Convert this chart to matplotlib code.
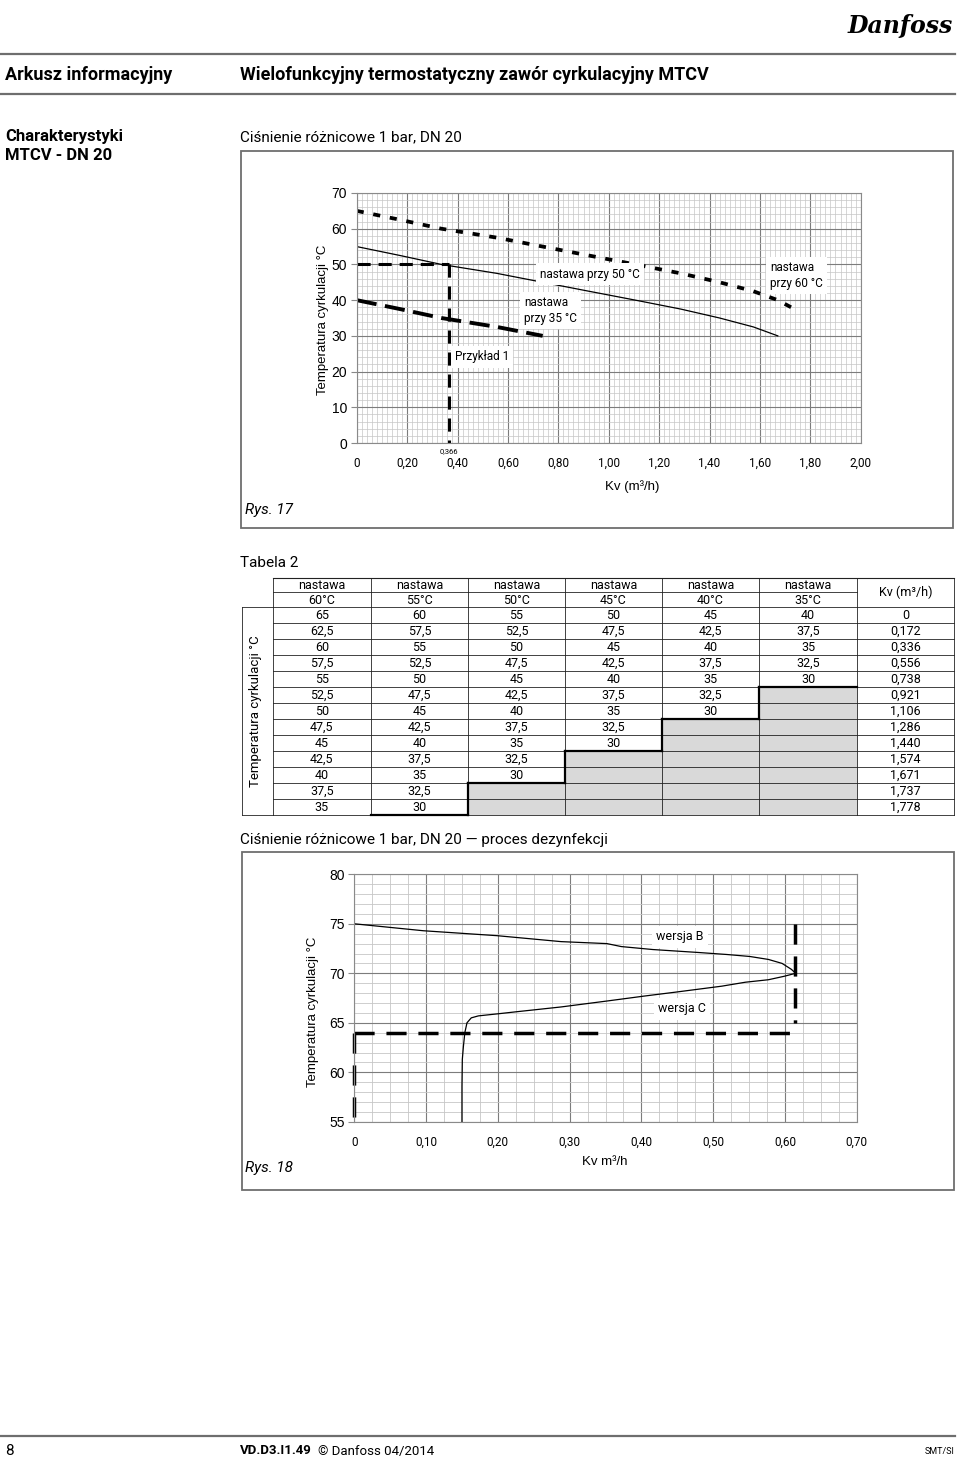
import matplotlib
matplotlib.use("Agg")
import matplotlib.pyplot as plt
from matplotlib.ticker import MultipleLocator, FixedLocator
from matplotlib.patches import Rectangle

W, H = 960, 1461

HEAD = ['Roboto', 'DejaVu Sans']
BODY = ['Roboto', 'DejaVu Sans']
ARIAL = ['Liberation Sans', 'DejaVu Sans']

# --- Rys. 17 / Tabela 2: nastawa (setting) columns and Kv rows ---
settings = [60, 55, 50, 45, 40, 35]
kv = [0, 0.172, 0.336, 0.556, 0.738, 0.921, 1.106, 1.286, 1.440, 1.574, 1.671, 1.737, 1.778]
temp_60 = [65, 62.5, 60, 57.5, 55, 52.5, 50, 47.5, 45, 42.5, 40, 37.5, 35]
temp_55 = [60, 57.5, 55, 52.5, 50, 47.5, 45, 42.5, 40, 37.5, 35, 32.5, 30]
temp_50 = [55, 52.5, 50, 47.5, 45, 42.5, 40, 37.5, 35, 32.5, 30]
temp_45 = [50, 47.5, 45, 42.5, 40, 37.5, 35, 32.5, 30]
temp_40 = [45, 42.5, 40, 37.5, 35, 32.5, 30]
temp_35 = [40, 37.5, 35, 32.5, 30]
table_cols = [temp_60, temp_55, temp_50, temp_45, temp_40, temp_35]

# Przykład 1
example_kv = 0.366
example_temp = 50

x1_ticks = [0, 0.2, 0.4, 0.6, 0.8, 1.0, 1.2, 1.4, 1.6, 1.8, 2.0]
x1_labels = ['0', '0,20', '0,40', '0,60', '0,80', '1,00', '1,20', '1,40', '1,60', '1,80', '2,00']
y1_ticks = [0, 10, 20, 30, 40, 50, 60, 70]

# --- Rys. 18: proces dezynfekcji ---
dis_kv = [0, 0.096, 0.199, 0.288, 0.352, 0.372, 0.416, 0.48, 0.519, 0.551, 0.577, 0.596, 0.609, 0.615,
          0.599, 0.577, 0.545, 0.512, 0.448, 0.404, 0.352, 0.288, 0.224, 0.199, 0.173, 0.163, 0.157,
          0.154, 0.152, 0.1505, 0.15, 0.15]
dis_temp = [75, 74.3, 73.8, 73.2, 73.0, 72.7, 72.4, 72.1, 71.9, 71.7, 71.4, 71.0, 70.4, 70.0,
            69.7, 69.35, 69.1, 68.7, 68.1, 67.7, 67.2, 66.6, 66.1, 65.9, 65.7, 65.5, 65.0,
            64.0, 62.6, 61.3, 58.6, 55]
dis_limit_temp = 64
dis_limit_kv = 0.614
dis_upper = [65, 75]

x2_ticks = [0, 0.1, 0.2, 0.3, 0.4, 0.5, 0.6, 0.7]
x2_labels = ['0', '0,10', '0,20', '0,30', '0,40', '0,50', '0,60', '0,70']
y2_ticks = [55, 60, 65, 70, 75, 80]


def fmt_temp(v):
    s = ('%.1f' % v).rstrip('0').rstrip('.')
    return s.replace('.', ',')


def fmt_kv(v):
    return '0' if v == 0 else ('%.3f' % v).replace('.', ',')


fig = plt.figure(figsize=(W / 100, H / 100), dpi=100)

# page layer in pixel coordinates
page = fig.add_axes([0, 0, 1, 1])
page.set_xlim(0, W)
page.set_ylim(H, 0)
page.axis('off')

# header
page.text(953, 26, 'Danfoss', family='DejaVu Serif', style='italic', weight='bold',
          fontsize=17, ha='right', va='center')
page.plot([0, 955], [54, 54], color='#6e6e6e', lw=1.6)
page.plot([0, 955], [94, 94], color='#6e6e6e', lw=1.6)
page.text(5, 75, 'Arkusz informacyjny', family=HEAD, weight='bold', fontsize=13, va='center')
page.text(240, 75, 'Wielofunkcyjny termostatyczny zawór cyrkulacyjny MTCV', family=HEAD,
          weight='bold', fontsize=13, va='center')
page.text(5, 137, 'Charakterystyki', family=HEAD, weight='bold', fontsize=12, va='center')
page.text(5, 155, 'MTCV - DN 20', family=HEAD, weight='bold', fontsize=12, va='center')
page.text(240, 137, 'Ciśnienie różnicowe 1 bar, DN 20', family=BODY, fontsize=11, va='center')

# frame Rys. 17
page.add_patch(Rectangle((241, 151), 712, 377, fill=False, ec='#6e6e6e', lw=1.3))
page.text(245, 510, 'Rys. 17', family=BODY, style='italic', fontsize=11, va='center')
page.text(323, 320, 'Temperatura cyrkulacji °C', family=ARIAL, fontsize=9.5, rotation=90,
          ha='center', va='center')
page.text(632, 487, 'Kv (m³/h)', family=ARIAL, fontsize=9.5, ha='center', va='center')

# --- chart 1 ---
ax1 = fig.add_axes([356.7 / W, 1 - 443 / H, (860.7 - 356.7) / W, (443 - 193) / H])
ax1.set_xlim(0, 2.0)
ax1.set_ylim(0, 70)
ax1.xaxis.set_major_locator(FixedLocator(x1_ticks))
ax1.set_xticklabels(x1_labels, family=BODY)
ax1.yaxis.set_major_locator(FixedLocator(y1_ticks))
ax1.set_yticklabels([str(t) for t in y1_ticks], family=ARIAL)
ax1.xaxis.set_minor_locator(MultipleLocator(0.02))
ax1.yaxis.set_minor_locator(MultipleLocator(2))
ax1.grid(which='minor', color='#c6c6c6', lw=0.5)
ax1.grid(which='major', color='#7c7c7c', lw=0.8)
ax1.set_axisbelow(True)
ax1.tick_params(axis='x', which='both', length=0, pad=10, labelsize=8.5)
ax1.tick_params(axis='y', which='major', length=4, color='#888888', pad=3, labelsize=10)
ax1.tick_params(axis='y', which='minor', length=0)
for sp in ax1.spines.values():
    sp.set_color('#8a8a8a')
    sp.set_linewidth(0.8)

# nastawa 60 degC (short thick dashes)
ax1.plot(kv[:12], temp_60[:12], color='black', lw=2.7, dashes=(1.9, 2.6), solid_capstyle='butt')
# nastawa 50 degC (thin solid)
ax1.plot(kv[:len(temp_50)], temp_50, color='black', lw=0.9)
# nastawa 35 degC (long dashes)
ax1.plot(kv[:len(temp_35)], temp_35, color='black', lw=2.8, dashes=(5.2, 2.2))
# Przykład 1
ax1.plot([0, example_kv], [example_temp, example_temp], color='black', lw=2.2, dashes=(4.3, 2.6))
ax1.plot([example_kv, example_kv], [example_temp, 0], color='black', lw=2.2, dashes=(4.3, 2.9))

box = dict(facecolor='white', edgecolor='none', pad=3)
ax1.text(0.926, 47.3, 'nastawa przy 50 °C', family=BODY, fontsize=8.5, ha='center', va='center', bbox=box)
ax1.text(0.664, 37.1, 'nastawa\nprzy 35 °C', family=BODY, fontsize=8.5, ha='left', va='center',
         linespacing=1.3, bbox=box)
ax1.text(0.39, 24.1, 'Przykład 1', family=BODY, fontsize=8.5, ha='left', va='center', bbox=box)
ax1.text(1.64, 46.9, 'nastawa\nprzy 60 °C', family=BODY, fontsize=8.5, ha='left', va='center',
         linespacing=1.3, bbox=box)
ax1.text(example_kv, -2.2, '0,366', family=BODY, fontsize=5.5, ha='center', va='center')

# --- Tabela 2 ---
page.text(240, 563, 'Tabela 2', family=BODY, fontsize=11, va='center')
col_x = [273, 370.7, 468, 564.8, 662, 759, 857, 954]
y_top, y_mid, y_hdr = 578, 592, 607
row_h = 16
row_y = [y_hdr + row_h * i for i in range(len(kv) + 1)]
y_bot = row_y[-1]

for j, col in enumerate(table_cols):
    for i in range(len(kv)):
        if i >= len(col):
            page.add_patch(Rectangle((col_x[j], row_y[i]), col_x[j + 1] - col_x[j], row_h,
                                     fc='#d9d9d9', ec='none'))
        else:
            page.text((col_x[j] + col_x[j + 1]) / 2, row_y[i] + row_h / 2 + 0.5, fmt_temp(col[i]),
                      family=BODY, fontsize=9, ha='center', va='center')
for i, k in enumerate(kv):
    page.text((col_x[6] + col_x[7]) / 2, row_y[i] + row_h / 2 + 0.5, fmt_kv(k),
              family=BODY, fontsize=9, ha='center', va='center')

for j, s in enumerate(settings):
    cx = (col_x[j] + col_x[j + 1]) / 2
    page.text(cx, (y_top + y_mid) / 2 + 0.5, 'nastawa', family=BODY, fontsize=9, ha='center', va='center')
    page.text(cx, (y_mid + y_hdr) / 2 + 0.5, '%d°C' % s, family=BODY, fontsize=9, ha='center', va='center')
page.text((col_x[6] + col_x[7]) / 2, (y_top + y_hdr) / 2, 'Kv (m³/h)', family=BODY, fontsize=9,
          ha='center', va='center')

lc = '#222222'
for yy in row_y:
    page.plot([col_x[0], col_x[-1]], [yy, yy], color=lc, lw=0.6)
page.plot([col_x[0], col_x[-1]], [y_top, y_top], color=lc, lw=0.8)
page.plot([col_x[0], col_x[6]], [y_mid, y_mid], color=lc, lw=0.6)
for xx in col_x:
    page.plot([xx, xx], [y_top, y_bot], color=lc, lw=0.6)
# row label cell
page.plot([242, col_x[0]], [y_hdr, y_hdr], color=lc, lw=0.6)
page.plot([242, 242], [y_hdr, y_bot], color=lc, lw=0.6)
page.plot([242, col_x[0]], [y_bot, y_bot], color=lc, lw=0.6)
page.text(256, (y_hdr + y_bot) / 2, 'Temperatura cyrkulacji °C', family=BODY, fontsize=9.5,
          rotation=90, ha='center', va='center')
# staircase border
for j in range(1, len(table_cols)):
    n = len(table_cols[j])
    page.plot([col_x[j], col_x[j + 1]], [row_y[n], row_y[n]], color='black', lw=1.6,
              solid_capstyle='projecting')
    if j > 1:
        m = len(table_cols[j - 1])
        page.plot([col_x[j], col_x[j]], [row_y[n], row_y[m]], color='black', lw=1.6,
                  solid_capstyle='projecting')

# --- Rys. 18 frame ---
page.text(240, 840, 'Ciśnienie różnicowe 1 bar, DN 20 — proces dezynfekcji', family=BODY,
          fontsize=11, va='center')
page.add_patch(Rectangle((242, 852), 712, 338, fill=False, ec='#6e6e6e', lw=1.3))
page.text(245, 1168, 'Rys. 18', family=BODY, style='italic', fontsize=11, va='center')
page.text(313, 1012, 'Temperatura cyrkulacji °C', family=ARIAL, fontsize=9.5, rotation=90,
          ha='center', va='center')
page.text(605, 1162, 'Kv m³/h', family=ARIAL, fontsize=9.5, ha='center', va='center')

ax2 = fig.add_axes([354.3 / W, 1 - 1121.8 / H, (856.7 - 354.3) / W, (1121.8 - 874.3) / H])
ax2.set_xlim(0, 0.7)
ax2.set_ylim(55, 80)
ax2.xaxis.set_major_locator(FixedLocator(x2_ticks))
ax2.set_xticklabels(x2_labels, family=BODY)
ax2.yaxis.set_major_locator(FixedLocator(y2_ticks))
ax2.set_yticklabels([str(t) for t in y2_ticks], family=ARIAL)
ax2.xaxis.set_minor_locator(MultipleLocator(0.025))
ax2.yaxis.set_minor_locator(MultipleLocator(1))
ax2.grid(which='minor', color='#c6c6c6', lw=0.6)
ax2.grid(which='major', color='#7c7c7c', lw=0.8)
ax2.set_axisbelow(True)
ax2.tick_params(axis='x', which='both', length=0, pad=10, labelsize=8.5)
ax2.tick_params(axis='y', which='major', length=4, color='#888888', pad=3, labelsize=10)
ax2.tick_params(axis='y', which='minor', length=0)
for sp in ax2.spines.values():
    sp.set_color('#8a8a8a')
    sp.set_linewidth(0.8)

ax2.plot(dis_kv, dis_temp, color='black', lw=0.9)
ax2.plot([0, dis_limit_kv], [dis_limit_temp, dis_limit_temp], color='black', lw=2.5,
         dashes=(5.8, 3.4))
ax2.plot([0, 0], [dis_limit_temp, 55], color='black', lw=2.5, dashes=(5.8, 3.4), clip_on=False)
ax2.plot([dis_limit_kv, dis_limit_kv], [dis_upper[1], dis_upper[0]], color='black', lw=2.5,
         dashes=(5.8, 3.4))
ax2.text(0.4536, 73.67, 'wersja B', family=BODY, fontsize=9, ha='center', va='center', bbox=box)
ax2.text(0.456, 66.4, 'wersja C', family=BODY, fontsize=9, ha='center', va='center', bbox=box)

# footer
page.plot([0, 955], [1436, 1436], color='#6e6e6e', lw=1.6)
page.text(5, 1451, '8', family=BODY, fontsize=11, va='center')
page.text(240, 1451, 'VD.D3.I1.49', family=HEAD, weight='bold', fontsize=9.5, va='center')
page.text(318, 1451, '© Danfoss 04/2014', family=BODY, fontsize=9.5, va='center')
page.text(955, 1451, 'SMT/SI', family=BODY, fontsize=6.5, ha='right', va='center')

fig.savefig('out.png', dpi=100)
